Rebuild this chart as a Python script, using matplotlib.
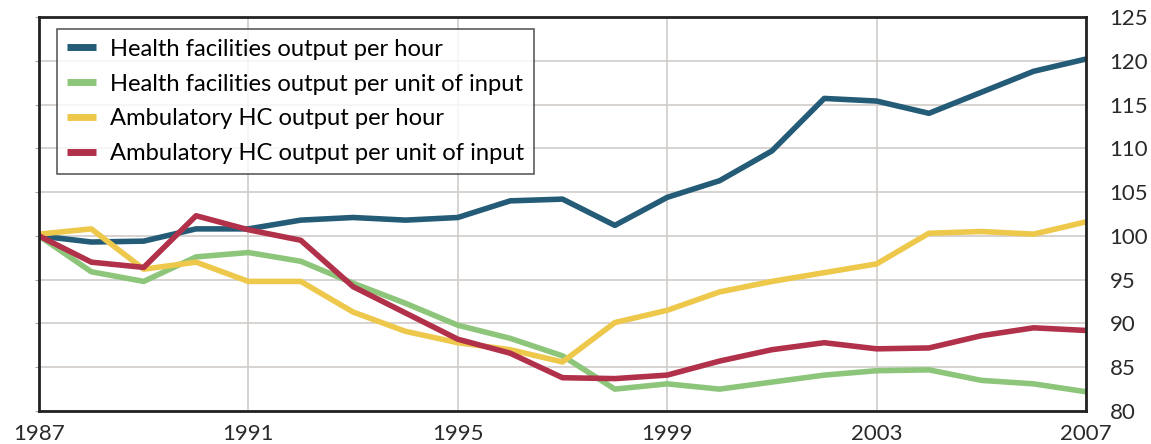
import matplotlib
matplotlib.use("Agg")
import matplotlib.pyplot as plt

years = list(range(1987, 2008))
hf_hour = [100, 99.3, 99.4, 100.8, 100.8, 101.8, 102.1, 101.8, 102.1, 104.0, 104.2,
           101.2, 104.4, 106.3, 109.7, 115.7, 115.4, 114.0, 116.4, 118.8, 120.2]
hf_input = [100, 95.9, 94.8, 97.6, 98.1, 97.1, 94.6, 92.3, 89.8, 88.3, 86.3,
            82.5, 83.1, 82.5, 83.3, 84.1, 84.6, 84.7, 83.5, 83.1, 82.2]
amb_hour = [100.2, 100.8, 96.2, 97.0, 94.8, 94.8, 91.3, 89.1, 87.8, 87.0, 85.6,
            90.1, 91.5, 93.6, 94.8, 95.8, 96.8, 100.3, 100.5, 100.2, 101.6]
amb_input = [100, 97.0, 96.4, 102.3, 100.7, 99.5, 94.2, 91.2, 88.2, 86.6, 83.8,
             83.7, 84.1, 85.7, 87.0, 87.8, 87.1, 87.2, 88.6, 89.5, 89.2]

labels = ["Health facilities output per hour",
          "Health facilities output per unit of input",
          "Ambulatory HC output per hour",
          "Ambulatory HC output per unit of input"]
colors = ["#245C78", "#8DC67A", "#EDC84B", "#B1304A"]
xticks = [1987, 1991, 1995, 1999, 2003, 2007]
yticks = [80, 85, 90, 95, 100, 105, 110, 115, 120, 125]

plt.rcParams['font.family'] = ['Lato', 'DejaVu Sans']

fig = plt.figure(figsize=(11.51, 4.44), dpi=100)
W, H = 1151, 444
ax = fig.add_axes([39 / W, 1 - 411 / H, (1086 - 39) / W, (411 - 17) / H])

for series, lab, c in zip([hf_hour, hf_input, amb_hour, amb_input], labels, colors):
    ax.plot(years, series, color=c, lw=4.0, label=lab, solid_joinstyle='round')

ax.set_xlim(1987, 2007)
ax.set_ylim(80, 125)
ax.set_xticks(xticks)
ax.set_yticks(yticks)
ax.grid(True, color="#D0CCCA", lw=1.2)
ax.set_axisbelow(True)
for s in ax.spines.values():
    s.set_color("#222222")
    s.set_linewidth(2)
ax.tick_params(axis='y', left=True, right=False, labelleft=False, labelright=True,
               length=3, color="#AAAAAA", labelsize=16, pad=14, labelcolor="#2a2a2a")
ax.tick_params(axis='x', bottom=False, labelsize=16, pad=6, labelcolor="#2a2a2a")

leg = ax.legend(loc='upper left', bbox_to_anchor=(0.017, 0.97), borderaxespad=0,
                fontsize=17.1, frameon=True, fancybox=False, handlelength=1.25,
                handletextpad=0.55, labelspacing=0.58, borderpad=0.42)
leg.get_frame().set_edgecolor("#333333")
leg.get_frame().set_linewidth(1.2)
for h in leg.get_lines():
    h.set_linewidth(5)
    h.set_solid_capstyle('butt')

fig.savefig("out.png", dpi=100)
